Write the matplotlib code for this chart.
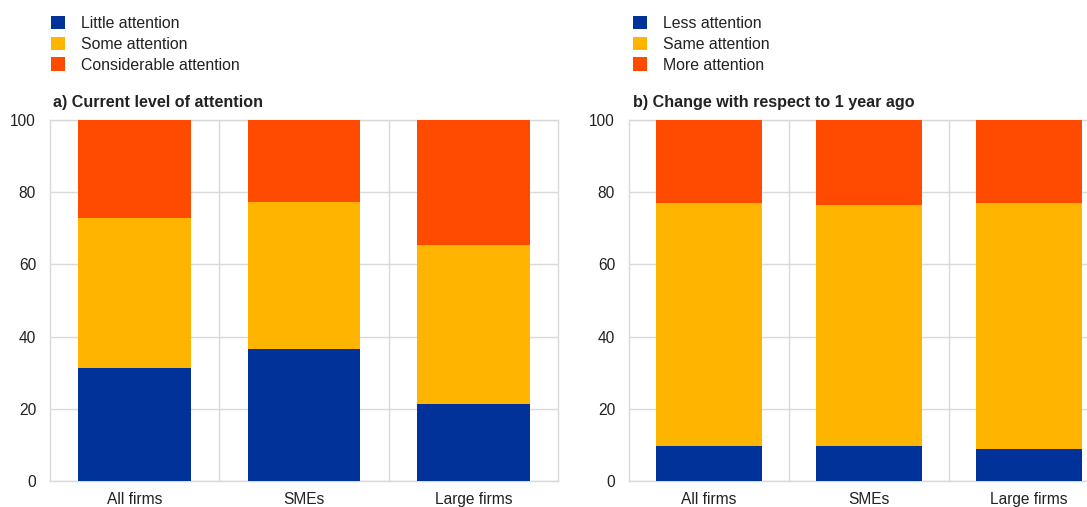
import matplotlib
matplotlib.use("Agg")
import matplotlib.pyplot as plt
import numpy as np

plt.rcParams['font.family'] = ['Liberation Sans', 'DejaVu Sans']

categories = ['All firms', 'SMEs', 'Large firms']

# a) Current level of attention
little = [31.3, 36.7, 21.4]
some = [41.6, 40.5, 43.9]
considerable = [27.1, 22.8, 34.7]

# b) Change with respect to 1 year ago
less = [9.7, 9.7, 9.0]
same = [67.2, 66.7, 67.9]
more = [23.1, 23.6, 23.1]

labels_a = ['Little attention', 'Some attention', 'Considerable attention']
labels_b = ['Less attention', 'Same attention', 'More attention']
title_a = 'a) Current level of attention'
title_b = 'b) Change with respect to 1 year ago'

colors = ['#003299', '#FFB400', '#FF4B00']
grid_col = '#d9d9d9'
text_col = '#222222'

W, H = 1087, 507
fig = plt.figure(figsize=(W / 100, H / 100), dpi=100)


def panel(rect, series, labels, title, leg_x, title_x):
    ax = fig.add_axes(rect)
    x = np.arange(len(categories))
    bottom = np.zeros(len(categories))
    for vals, col, lab in zip(series, colors, labels):
        ax.bar(x, vals, width=0.667, bottom=bottom, color=col, label=lab, zorder=3)
        bottom += np.array(vals)
    ax.set_xlim(-0.5, len(categories) - 0.5)
    ax.set_ylim(0, 100)
    ax.set_yticks(np.arange(0, 101, 20))
    ax.set_xticks(x)
    ax.set_xticklabels(categories)
    ax.set_xticks(np.arange(0.5, len(categories) - 0.5, 1), minor=True)
    ax.grid(axis='y', color=grid_col, linewidth=1, zorder=0)
    ax.grid(axis='x', which='minor', color=grid_col, linewidth=1, zorder=0)
    ax.grid(axis='x', which='major', visible=False)
    for s in ax.spines.values():
        s.set_color(grid_col)
        s.set_linewidth(1)
    ax.tick_params(axis='both', which='both', length=0, labelsize=11.2, colors=text_col)
    ax.tick_params(axis='y', pad=10)
    ax.tick_params(axis='x', pad=8)

    fig.text(title_x / W, (H - 107) / H, title, fontsize=11.6, fontweight='bold',
             color=text_col, va='baseline', ha='left')
    ax.legend(loc='upper left', bbox_to_anchor=(leg_x / W, (H - 16) / H),
              bbox_transform=fig.transFigure, frameon=False, fontsize=11.4,
              handlelength=0.9, handleheight=0.9, handletextpad=1.0,
              labelspacing=0.36, borderpad=0, borderaxespad=0,
              labelcolor=text_col)
    return ax


panel([50 / W, (H - 481) / H, 508 / W, 361 / H], [little, some, considerable],
      labels_a, title_a, 51, 53)
panel([629 / W, (H - 481) / H, 480 / W, 361 / H], [less, same, more],
      labels_b, title_b, 633, 633)

fig.savefig('out.png', dpi=100)
